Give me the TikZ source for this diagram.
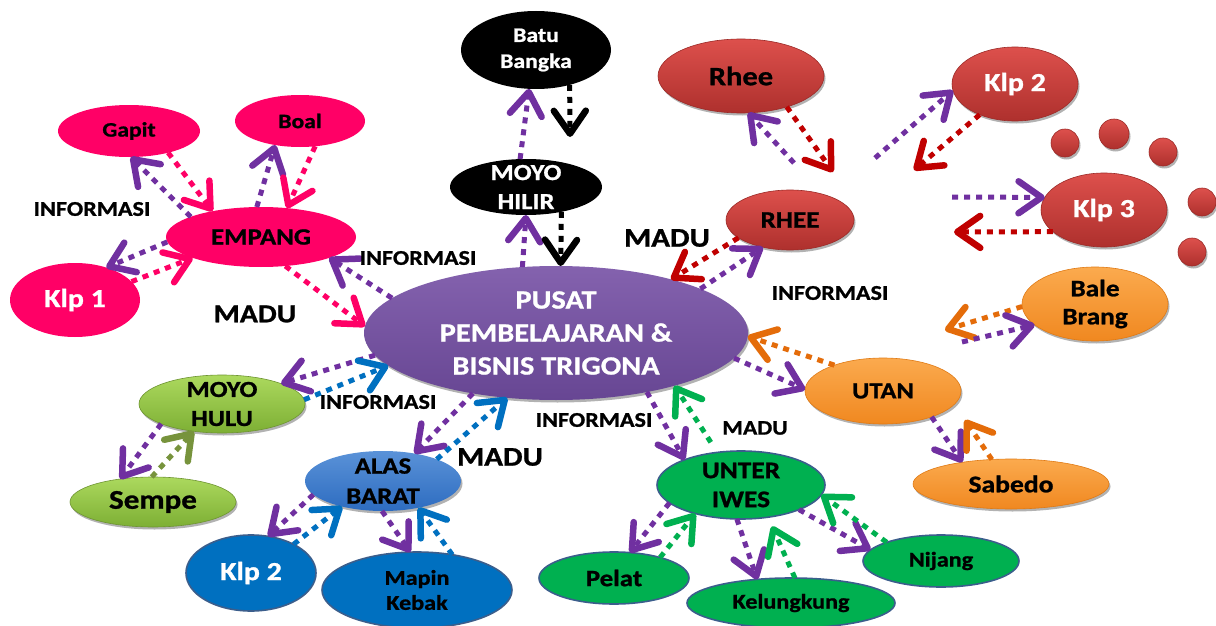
\documentclass[tikz,border=0pt]{standalone}
\usepackage{fontspec}
\setmainfont{Carlito}[FakeStretch=1.15, BoldFeatures={FakeBold=1}]
\usetikzlibrary{arrows.meta,shapes.geometric,shadows}
\definecolor{cPink}{HTML}{FF0066}
\definecolor{cPurA}{HTML}{7030A0}
\definecolor{cRedA}{HTML}{C00000}
\definecolor{cOrA}{HTML}{E46C0A}
\definecolor{cGrA}{HTML}{00B050}
\definecolor{cBlA}{HTML}{0070C0}
\definecolor{cOlA}{HTML}{77933C}
\definecolor{cPusT}{HTML}{8462AE}
\definecolor{cPusB}{HTML}{674693}
\definecolor{cRedT}{HTML}{DD504C}
\definecolor{cRedB}{HTML}{AE302D}
\definecolor{cRedD}{HTML}{9C2A27}
\definecolor{cOrT}{HTML}{FBAA4E}
\definecolor{cOrB}{HTML}{F08820}
\definecolor{cOrD}{HTML}{E07A14}
\definecolor{cGrN}{HTML}{00B050}
\definecolor{cGrD}{HTML}{3B5E8C}
\definecolor{cBlN}{HTML}{0070C0}
\definecolor{cBlT}{HTML}{5A92D8}
\definecolor{cBlB}{HTML}{2D6CC0}
\definecolor{cLgT}{HTML}{ACD95E}
\definecolor{cLgB}{HTML}{7DAF34}
\definecolor{cLgD}{HTML}{6E9432}
\tikzset{
  ell/.style={ellipse, inner sep=0pt, outer sep=0pt},
  shd/.style={drop shadow={shadow xshift=1.5pt, shadow yshift=-2.5pt, opacity=0.3, fill=black}},
  pinkE/.style={ell, fill=cPink},
  pusE/.style={ell, top color=cPusT, bottom color=cPusB, shd},
  blkE/.style={ell, fill=black},
  redE/.style={ell, top color=cRedT, bottom color=cRedB, draw=cRedD, line width=0.6pt, shd},
  orE/.style={ell, top color=cOrT, bottom color=cOrB, draw=cOrD, line width=0.6pt, shd},
  grE/.style={ell, fill=cGrN, draw=cGrD, line width=1.6pt},
  blE/.style={ell, fill=cBlN, draw=cGrD, line width=1.6pt},
  alE/.style={ell, top color=cBlT, bottom color=cBlB, shd},
  lgE/.style={ell, top color=cLgT, bottom color=cLgB, draw=cLgD, line width=0.6pt, shd},
  tx/.style 2 args={font=\fontsize{#1}{#2}\selectfont\bfseries, align=center, inner sep=0pt},
  arr/.style={line width=5pt, dash pattern=on 6pt off 6pt,
    -{Straight Barb[length=23pt,width=32pt,line width=6.5pt,round]}},
  pa/.style={arr, draw=cPurA},
  ka/.style={arr, draw=cPink},
  ba/.style={arr, draw=black},
  ra/.style={arr, draw=cRedA},
  oa/.style={arr, draw=cOrA},
  ga/.style={arr, draw=cGrA},
  la/.style={arr, draw=cBlA},
  va/.style={arr, draw=cOlA},
}
\begin{document}
\begin{tikzpicture}[x=1pt,y=-1pt]
\useasboundingbox (0,0) rectangle (1216,626);
\fill[white] (0,0) rectangle (1216,626);
% ---------- ellipses ----------
\node[pinkE, minimum width=190pt, minimum height=60pt] (empang) at (261,237) {};
\node[pinkE, minimum width=142pt, minimum height=52pt] (gapit) at (129,131) {};
\node[pinkE, minimum width=130pt, minimum height=52pt] (boal) at (300,121) {};
\node[pinkE, minimum width=130pt, minimum height=74pt] (klp1) at (75,300) {};
\node[pusE, minimum width=384pt, minimum height=134pt] (pusat) at (556,333) {};
\node[blkE, minimum width=150pt, minimum height=78pt] (batu) at (536,50) {};
\node[blkE, minimum width=152pt, minimum height=56pt] (hilir) at (526,187) {};
\node[redE, minimum width=166pt, minimum height=74pt] (rhee) at (741,76) {};
\node[redE, minimum width=126pt, minimum height=74pt] (klp2r) at (1015,84) {};
\node[redE, minimum width=126pt, minimum height=74pt] (klp3) at (1104,210) {};
\node[redE, minimum width=128pt, minimum height=60pt] (rheeB) at (790,220) {};
\node[redE, circle, minimum size=28pt] (d1) at (1065,143) {};
\node[redE, circle, minimum size=30pt] (d2) at (1114,134) {};
\node[redE, circle, minimum size=28pt] (d3) at (1163,152) {};
\node[redE, circle, minimum size=28pt] (d4) at (1202,202) {};
\node[redE, circle, minimum size=28pt] (d5) at (1192,252) {};
\node[orE, minimum width=146pt, minimum height=74pt] (bale) at (1095,304) {};
\node[orE, minimum width=156pt, minimum height=66pt] (utan) at (883,391) {};
\node[orE, minimum width=196pt, minimum height=50pt] (sabedo) at (1011,484) {};
\node[grE, minimum width=168pt, minimum height=68pt] (unter) at (741,485) {};
\node[grE, minimum width=150pt, minimum height=52pt] (pelat) at (614,578) {};
\node[grE, minimum width=208pt, minimum height=50pt] (kelung) at (791,603) {};
\node[grE, minimum width=156pt, minimum height=52pt] (nijang) at (941,561) {};
\node[alE, minimum width=156pt, minimum height=60pt] (alas) at (383,481) {};
\node[blE, minimum width=130pt, minimum height=76pt] (klp2b) at (251,573) {};
\node[blE, minimum width=190pt, minimum height=76pt] (mapin) at (417,590) {};
\node[lgE, minimum width=166pt, minimum height=58pt] (hulu) at (222,404) {};
\node[lgE, minimum width=166pt, minimum height=50pt] (sempe) at (153,502) {};
% ---------- free ends ----------
\coordinate (bbend) at (570,137);
\coordinate (fA) at (833,172);
\coordinate (fB) at (794,163);
\coordinate (fC) at (875,158);
\coordinate (fD) at (914,170);
\coordinate (fE) at (952,197);
\coordinate (fF) at (954,232);
\coordinate (fG) at (945,330);
\coordinate (fH) at (962,342);
\coordinate (fI) at (965,420);
% ---------- connectors ----------
\draw[pa] (empang.164) -- (gapit.-86);
\draw[ka] (gapit.-29) -- (empang.152);
\draw[pa] (empang.98) -- (boal.-136);
\draw[ka] (boal.-59) -- (empang.48);
\draw[pa] (empang.-177) -- (klp1.46);
\draw[ka] (klp1.18) -- (empang.-163);
\draw[ka] (empang.-50) -- (pusat.178);
\draw[pa] (pusat.168) -- (empang.-17);
\draw[pa] (pusat.117) -- (hilir.-90);
\draw[ba] (hilir.-35) -- (pusat.86);
\draw[pa] (hilir.102) -- (batu.-100);
\draw[ba] (batu.-46) -- (bbend);
\draw[ra] (rheeB.-161) -- (pusat.25);
\draw[pa] (pusat.17) -- (rheeB.-135);
\draw[ra] (rhee.-34) -- (fA);
\draw[pa] (fB) -- (rhee.-79);
\draw[pa] (fC) -- (klp2r.-174);
\draw[ra] (klp2r.-139) -- (fD);
\draw[pa] (fE) -- (klp3.168);
\draw[ra] (klp3.-157) -- (fF);
\draw[oa] (bale.-178) -- (fG);
\draw[pa] (fH) -- (bale.-161);
\draw[oa] (utan.152) -- (pusat.-1);
\draw[pa] (pusat.-8) -- (utan.179);
\draw[pa] (utan.-28) -- (sabedo.156);
\draw[oa] (sabedo.128) -- (fI);
\draw[pa] (pusat.-33) -- (unter.156);
\draw[ga, shorten <=12pt] (unter.126) -- (pusat.-24);
\draw[pa] (unter.-166) -- (pelat.58);
\draw[ga] (pelat.24) -- (unter.-148);
\draw[pa] (unter.-97) -- (kelung.145);
\draw[ga, shorten >=10pt] (kelung.81) -- (unter.-50);
\draw[pa] (unter.-23) -- (nijang.171);
\draw[ga] (nijang.161) -- (unter.-7);
\draw[pa] (pusat.-144) -- (alas.41);
\draw[la] (alas.22) -- (pusat.-127);
\draw[pa] (alas.-169) -- (klp2b.65);
\draw[la] (klp2b.34) -- (alas.-148);
\draw[pa] (alas.-92) -- (mapin.100);
\draw[la] (mapin.45) -- (alas.-37);
\draw[pa] (pusat.-173) -- (hulu.19);
\draw[la] (hulu.3) -- (pusat.-169);
\draw[pa] (hulu.-162) -- (sempe.145);
\draw[va] (sempe.93) -- (hulu.-136);
% ---------- node texts ----------
\node[tx={23.3}{28}] (empang-t) at (empang) {EMPANG};
\node[tx={20.5}{25}] (gapit-t) at (gapit) {Gapit};
\node[tx={20.5}{25}] (boal-t) at (boal) {Boal};
\node[tx={26}{30}, text=white] (klp1-t) at (klp1) {Klp 1};
\node[tx={26.4}{33}, text=white] (pusat-t) at (pusat) {PUSAT\\PEMBELAJARAN \&\\BISNIS TRIGONA};
\node[tx={20.6}{26}, text=white] (batu-t) at (batu) {Batu\\Bangka};
\node[tx={23}{29}, text=white] (hilir-t) at (hilir) {MOYO\\HILIR};
\node[tx={26.5}{30}] (rhee-t) at (rhee) {Rhee};
\node[tx={26}{30}, text=white] (klp2r-t) at (klp2r) {Klp 2};
\node[tx={26}{30}, text=white] (klp3-t) at (klp3) {Klp 3};
\node[tx={23.6}{28}] (rheeB-t) at (rheeB) {RHEE};
\node[tx={23.7}{28}] (bale-t) at (bale) {Bale\\Brang};
\node[tx={23}{28}] (utan-t) at (utan) {UTAN};
\node[tx={24}{28}] (sabedo-t) at (sabedo) {Sabedo};
\node[tx={23.8}{29}] (unter-t) at (unter) {UNTER\\IWES};
\node[tx={23.4}{28}] (pelat-t) at (pelat) {Pelat};
\node[tx={21}{26}] (kelung-t) at (kelung) {Kelungkung};
\node[tx={21}{26}] (nijang-t) at (nijang) {Nijang};
\node[tx={23.3}{30}] (alas-t) at (alas) {ALAS\\BARAT};
\node[tx={26}{30}, text=white] (klp2b-t) at (klp2b) {Klp 2};
\node[tx={21}{25}] (mapin-t) at (mapin) {Mapin\\Kebak};
\node[tx={23}{29}] (hulu-t) at (hulu) {MOYO\\HULU};
\node[tx={27}{30}] (sempe-t) at (sempe) {Sempe};
% ---------- link labels ----------
\node[tx={21}{25}] (l1) at (92,209) {INFORMASI};
\node[tx={21}{25}] (l2) at (418,258) {INFORMASI};
\node[tx={26}{30}] (l3) at (255,314) {MADU};
\node[tx={27}{30}] (l4) at (667,238) {MADU};
\node[tx={21}{25}] (l5) at (830,293) {INFORMASI};
\node[tx={21}{25}] (l6) at (378,402) {INFORMASI};
\node[tx={27}{30}] (l7) at (500,457) {MADU};
\node[tx={21}{25}] (l8) at (594,420) {INFORMASI};
\node[tx={20.6}{25}] (l9) at (755,428) {MADU};
\end{tikzpicture}
\end{document}
